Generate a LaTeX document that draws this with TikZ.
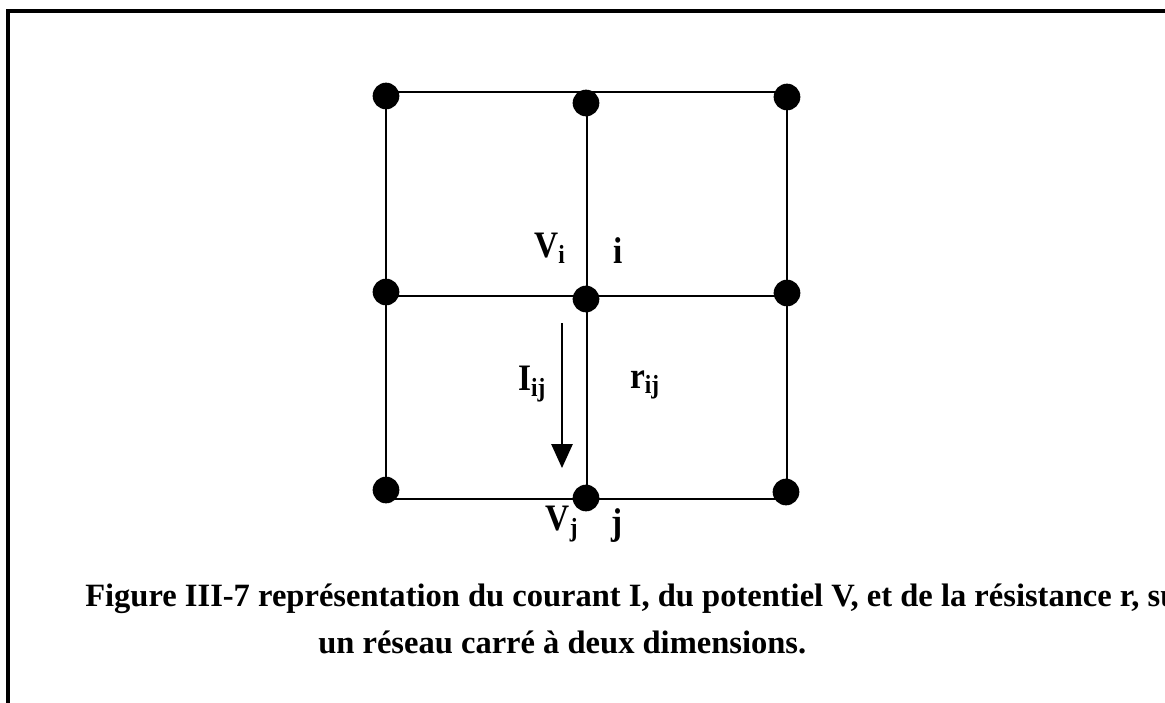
\documentclass[tikz,border=0pt]{standalone}
\usepackage{fontspec}
\setmainfont{Liberation Serif}
\usetikzlibrary{arrows.meta}
\newcommand{\tallbox}[1]{\scalebox{1}[1.12]{#1}}
\begin{document}
\begin{tikzpicture}[x=0.75pt,y=-0.75pt,
  dot/.style={circle,fill=black,minimum size=20pt,inner sep=0pt},
  gridline/.style={line width=1.45pt},
  lbl/.style={font=\fontsize{25}{29}\selectfont\bfseries,inner sep=0pt},
  captext/.style={font=\fontsize{24.4}{29}\selectfont\bfseries,inner sep=0pt},
  framel/.style={line width=3pt}]
\useasboundingbox (0,0) rectangle (1165,703);
\clip (0,0) rectangle (1165,703);
% frame
\coordinate (f1) at (8,703);
\coordinate (f2) at (8,10.5);
\coordinate (f3) at (1170,10.5);
\draw[framel] (f1) -- (f2) -- (f3);
% grid corners
\coordinate (a1) at (386,92);  \coordinate (a2) at (587,92);  \coordinate (a3) at (787,92);
\coordinate (b1) at (386,296); \coordinate (b2) at (587,296); \coordinate (b3) at (787,296);
\coordinate (c1) at (386,499); \coordinate (c2) at (587,499); \coordinate (c3) at (787,499);
\draw[gridline] (a1) -- (a3);
\draw[gridline] (b1) -- (b3);
\draw[gridline] (c1) -- (c3);
\draw[gridline] (a1) -- (c1);
\draw[gridline] (a2) -- (c2);
\draw[gridline] (a3) -- (c3);
% dots
\node[dot] (TL) at (386,96) {};
\node[dot] (TM) at (586,103) {};
\node[dot] (TR) at (787,97) {};
\node[dot] (ML) at (386,292) {};
\node[dot] (MM) at (586,299) {};
\node[dot] (MR) at (787,293) {};
\node[dot] (BL) at (386,490) {};
\node[dot] (BM) at (586,498) {};
\node[dot] (BR) at (786,492) {};
% arrow
\coordinate (arrS) at (562,323);
\coordinate (arrE) at (562,468);
\draw[line width=1.3pt,-{Triangle[width=16pt,length=18pt]}] (arrS) -- (arrE);
% labels
\node[lbl] (Vi) at (550,248) {\tallbox{V\textsubscript{i}}};
\node[lbl] (ilab) at (618,251) {\tallbox{i}};
\node[lbl] (Iij) at (532,384) {\tallbox{I\textsubscript{ij}}};
\node[lbl] (rij) at (645,385) {\tallbox{r\textsubscript{ij}}};
\node[lbl] (Vj) at (562,524) {\tallbox{V\textsubscript{j}}};
\node[lbl] (jlab) at (617,526) {\tallbox{j}};
% caption
\node[captext,anchor=base west] (cap1) at (85,606) {Figure III-7 représentation du courant I, du potentiel V, et de la résistance r, sur};
\node[captext,anchor=base west] (cap2) at (318,653) {un réseau carré à deux dimensions.};
\end{tikzpicture}
\end{document}
